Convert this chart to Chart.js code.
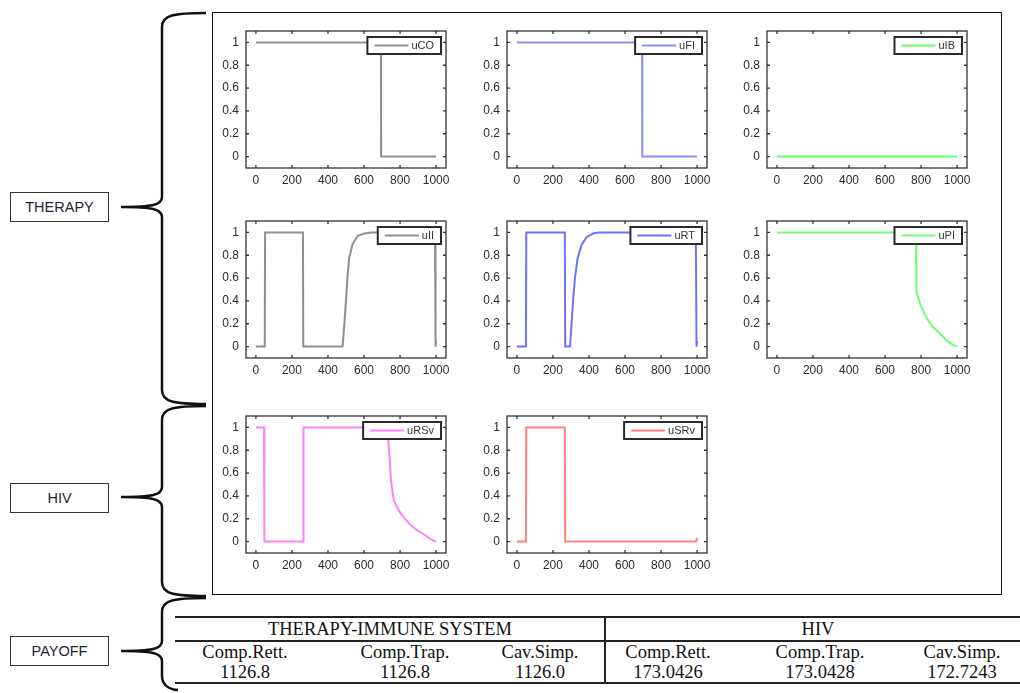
<!DOCTYPE html>
<html>
<head>
<meta charset="utf-8">
<script src="https://cdn.jsdelivr.net/npm/chart.js@4.4.0/dist/chart.umd.min.js"></script>
<style>
  body { margin:0; width:1020px; height:693px; background:#fff; position:relative; overflow:hidden; font-family:"Liberation Sans", Arial, sans-serif; }
  .frame { position:absolute; left:212px; top:12px; width:788px; height:581px; border:1.5px solid #111; }
  canvas.panel { position:absolute; }
  .tag { position:absolute; left:10px; width:99px; height:30px; border:1px solid #333; font-size:14.5px; color:#1c2536; display:flex; align-items:center; justify-content:center; box-sizing:border-box; }
  .cell { position:absolute; transform:translate(-50%,-50%); font-family:"Liberation Serif","Times New Roman",serif; font-size:18.5px; color:#111; white-space:nowrap; line-height:1; }
  .rule { position:absolute; background:#222; }
  svg { position:absolute; left:0; top:0; }
</style>
</head>
<body>
<div class="frame"></div>

<svg width="1020" height="693" id="braces"></svg>

<div class="tag" style="top:192px;">THERAPY</div>
<div class="tag" style="top:483px;">HIV</div>
<div class="tag" style="top:636px;">PAYOFF</div>

<!-- payoff table -->
<div class="rule" style="left:175px; top:616px; width:845px; height:2px;"></div>
<div class="rule" style="left:175px; top:640px; width:845px; height:1.5px;"></div>
<div class="rule" style="left:175px; top:682px; width:845px; height:2px;"></div>
<div class="rule" style="left:604px; top:616px; width:1.5px; height:68px;"></div>
<div id="table"></div>

<script>
// tick values
const xTicks = [0, 200, 400, 600, 800, 1000];
const yTicks = [0, 0.2, 0.4, 0.6, 0.8, 1];

// THERAPY / IMMUNE SYSTEM controls (time, value)
const tCO = [0, 694, 695, 1000];
const uCO = [1, 1, 0, 0];
const tFI = [0, 695, 696, 1000];
const uFI = [1, 1, 0, 0];
const tIB = [0, 1000];
const uIB = [0, 0];
const tII = [0, 49, 51, 261, 263, 481, 491, 500, 509, 518, 537, 565, 602, 640, 994, 997, 1000];
const uII = [0, 0, 1, 1, 0, 0, 0.2, 0.4, 0.63, 0.78, 0.9, 0.97, 0.99, 1, 1, 0, 0.05];
const tRT = [0, 50, 52, 266, 268, 295, 304, 313, 322, 337, 359, 387, 424, 451, 993, 997, 1000];
const uRT = [0, 0, 1, 1, 0, 0, 0.22, 0.43, 0.6, 0.775, 0.89, 0.96, 0.99, 1, 1, 0, 0.05];
const tPI = [0, 772, 774, 778, 796, 824, 861, 907, 944, 981, 1000];
const uPI = [1, 1, 0.5, 0.46, 0.37, 0.27, 0.18, 0.11, 0.05, 0.01, 0];

// HIV controls
const tRSv = [0, 45, 47, 262, 264, 728, 741, 750, 765, 787, 806, 833, 861, 898, 935, 972, 1000];
const uRSv = [1, 1, 0, 0, 1, 1, 0.76, 0.53, 0.36, 0.29, 0.24, 0.19, 0.14, 0.095, 0.06, 0.02, 0];
const tSRv = [0, 50, 52, 266, 268, 994, 1000];
const uSRv = [0, 0, 1, 1, 0, 0, 0.03];

// payoff table
const groups = ['THERAPY-IMMUNE SYSTEM', 'HIV'];
const methods = ['Comp.Rett.', 'Comp.Trap.', 'Cav.Simp.'];
const payTherapy = ['1126.8', '1126.8', '1126.0'];
const payHIV = ['173.0426', '173.0428', '172.7243'];

const panels = [
    { label: 'uCO', t: tCO, u: uCO, color: '#8f8f8f', col: 0, row: 0 },
    { label: 'uFI', t: tFI, u: uFI, color: '#8c8cff', col: 1, row: 0 },
    { label: 'uIB', t: tIB, u: uIB, color: '#66ff66', col: 2, row: 0 },
    { label: 'uII', t: tII, u: uII, color: '#8f8f8f', col: 0, row: 1 },
    { label: 'uRT', t: tRT, u: uRT, color: '#7070ff', col: 1, row: 1 },
    { label: 'uPI', t: tPI, u: uPI, color: '#70ff70', col: 2, row: 1 },
    { label: 'uRSv', t: tRSv, u: uRSv, color: '#ff80ff', col: 0, row: 2 },
    { label: 'uSRv', t: tSRv, u: uSRv, color: '#ff8080', col: 1, row: 2 }
];
const colLeft = [246, 507, 767];
const rowTop = [31, 221, 416];
const plotW = 200, plotH = 137;

const tickFont = { size: 12, family: '"Liberation Sans", Arial, sans-serif' };

// matlab-like box, inward ticks and legend
const matBox = {
    id: 'matBox',
    afterDraw(chart) {
        const ctx = chart.ctx, a = chart.chartArea;
        const xs = chart.scales.x, ys = chart.scales.y;
        ctx.save();
        ctx.strokeStyle = '#333';
        ctx.lineWidth = 1.3;
        ctx.strokeRect(a.left, a.top, a.right - a.left, a.bottom - a.top);
        ctx.beginPath();
        xTicks.forEach(v => {
            const px = xs.getPixelForValue(v);
            ctx.moveTo(px, a.bottom); ctx.lineTo(px, a.bottom - 3);
            ctx.moveTo(px, a.top); ctx.lineTo(px, a.top + 3);
        });
        yTicks.forEach(v => {
            const py = ys.getPixelForValue(v);
            ctx.moveTo(a.left, py); ctx.lineTo(a.left + 3, py);
            ctx.moveTo(a.right, py); ctx.lineTo(a.right - 3, py);
        });
        ctx.stroke();

        const ds = chart.data.datasets[0];
        ctx.font = '11px "Liberation Sans", Arial, sans-serif';
        const tw = ctx.measureText(ds.label).width;
        const w = tw + 51, h = 17;
        const bx = a.right - 5 - w, by = a.top + 6;
        ctx.fillStyle = '#fff';
        ctx.fillRect(bx, by, w, h);
        ctx.lineWidth = 2;
        ctx.strokeStyle = '#2a2a2a';
        ctx.strokeRect(bx, by, w, h);
        ctx.strokeStyle = ds.borderColor;
        ctx.lineWidth = 2;
        ctx.beginPath();
        ctx.moveTo(bx + 7, by + h / 2);
        ctx.lineTo(bx + 41, by + h / 2);
        ctx.stroke();
        ctx.fillStyle = '#333';
        ctx.textAlign = 'left';
        ctx.textBaseline = 'middle';
        ctx.fillText(ds.label, bx + 44, by + h / 2 + 0.5);
        ctx.restore();
    }
};

panels.forEach(p => {
    const cv = document.createElement('canvas');
    cv.className = 'panel';
    cv.width = 45 + plotW + 10;
    cv.height = 4 + plotH + 26;
    cv.style.left = (colLeft[p.col] - 45) + 'px';
    cv.style.top = (rowTop[p.row] - 4) + 'px';
    document.body.appendChild(cv);

    new Chart(cv, {
        type: 'line',
        data: {
            datasets: [{
                label: p.label,
                data: p.t.map((x, i) => ({ x: x, y: p.u[i] })),
                borderColor: p.color,
                borderWidth: 2,
                pointRadius: 0,
                tension: 0,
                fill: false
            }]
        },
        options: {
            responsive: false,
            animation: false,
            events: [],
            layout: { padding: { top: 4, right: 10, left: 0, bottom: 0 } },
            plugins: { legend: { display: false }, tooltip: { enabled: false } },
            scales: {
                x: {
                    type: 'linear', min: -55, max: 1055,
                    grid: { display: false, drawTicks: false },
                    border: { display: false },
                    afterBuildTicks: s => { s.ticks = xTicks.map(v => ({ value: v })); },
                    afterFit: s => { s.height = 26; s.paddingLeft = 0; s.paddingRight = 0; },
                    ticks: { padding: 5, maxRotation: 0, autoSkip: false, color: '#2b2b2b', font: tickFont, callback: v => String(v) }
                },
                y: {
                    min: -0.1, max: 1.1,
                    grid: { display: false, drawTicks: false },
                    border: { display: false },
                    afterBuildTicks: s => { s.ticks = yTicks.map(v => ({ value: v })); },
                    afterFit: s => { s.width = 45; s.paddingTop = 0; s.paddingBottom = 0; },
                    ticks: { padding: 7, autoSkip: false, color: '#2b2b2b', font: tickFont, callback: v => String(v) }
                }
            }
        },
        plugins: [matBox]
    });
});

// braces
function brace(y1, ym, y2, endTop, endBot) {
    const x = 162, tip = 121;
    return 'M ' + endTop + ' ' + y1 +
        ' C ' + (x + 12) + ' ' + y1 + ', ' + x + ' ' + (y1 + 2) + ', ' + x + ' ' + (y1 + 14) +
        ' L ' + x + ' ' + (ym - 10) +
        ' C ' + x + ' ' + (ym - 2) + ', ' + (x - 10) + ' ' + ym + ', ' + tip + ' ' + ym +
        ' C ' + (x - 10) + ' ' + ym + ', ' + x + ' ' + (ym + 2) + ', ' + x + ' ' + (ym + 10) +
        ' L ' + x + ' ' + (y2 - 14) +
        ' C ' + x + ' ' + (y2 - 2) + ', ' + (x + 12) + ' ' + y2 + ', ' + endBot + ' ' + y2;
}
const svg = document.getElementById('braces');
[[13, 207, 404, 206, 206], [406, 497, 596, 206, 206], [598, 651, 690, 206, 178]].forEach(b => {
    const path = document.createElementNS('http://www.w3.org/2000/svg', 'path');
    path.setAttribute('d', brace(b[0], b[1], b[2], b[3], b[4]));
    path.setAttribute('fill', 'none');
    path.setAttribute('stroke', '#111');
    path.setAttribute('stroke-width', '2.5');
    svg.appendChild(path);
});

// table text
const table = document.getElementById('table');
function cell(txt, x, y) {
    const d = document.createElement('div');
    d.className = 'cell';
    d.textContent = txt;
    d.style.left = x + 'px';
    d.style.top = y + 'px';
    table.appendChild(d);
}
cell(groups[0], 390, 629);
cell(groups[1], 818, 629);
const colTherapy = [245, 405, 540];
const colHIV = [668, 820, 962];
methods.forEach((m, i) => {
    cell(m, colTherapy[i], 652);
    cell(payTherapy[i], colTherapy[i], 672);
    cell(m, colHIV[i], 652);
    cell(payHIV[i], colHIV[i], 672);
});
</script>
</body>
</html>
